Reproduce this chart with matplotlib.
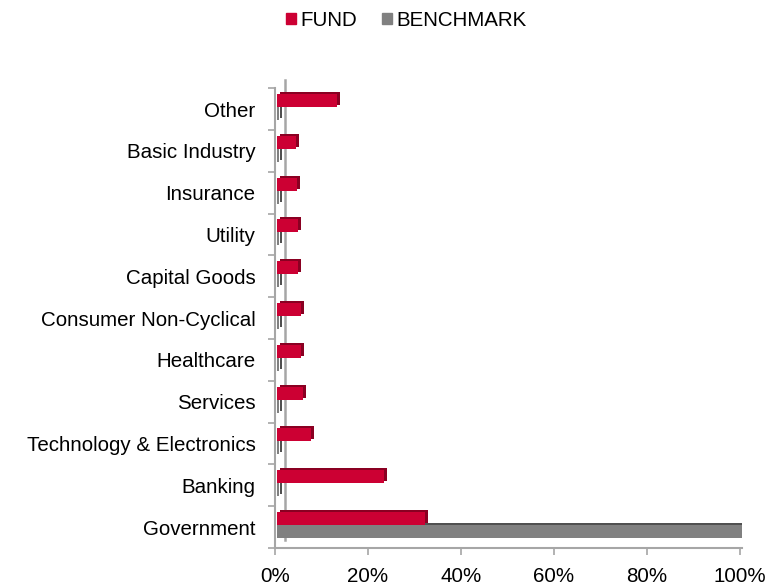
import matplotlib.pyplot as plt
import matplotlib.transforms as mtransforms
from matplotlib.patches import Patch

plt.rcParams['font.family'] = ['Liberation Sans', 'DejaVu Sans']

categories = ['Government', 'Banking', 'Technology & Electronics', 'Services',
              'Healthcare', 'Consumer Non-Cyclical', 'Capital Goods', 'Utility',
              'Insurance', 'Basic Industry', 'Other']
fund = [31.8, 23.0, 7.2, 5.6, 5.2, 5.0, 4.5, 4.5, 4.2, 4.0, 12.9]
benchmark = [100.0, 0.3, 0.3, 0.3, 0.3, 0.3, 0.3, 0.3, 0.3, 0.3, 0.3]
ticks = [0, 20, 40, 60, 80, 100]
tick_labels = ['0%', '20%', '40%', '60%', '80%', '100%']

red = '#cc0033'
red_dark = '#8a0022'
gray = '#808080'
gray_dark = '#505050'
frame = '#a6a6a6'
fs = 14.8

fig = plt.figure(figsize=(7.66, 5.88), dpi=100)
ax = fig.add_axes([0.359, 0.068, 0.61, 0.782])

h = 0.31
ypos = list(range(len(categories)))
yf = [y + h / 2 + 0.05 for y in ypos]
yb = [y - h / 2 + 0.05 for y in ypos]

# fake depth: darker copy shifted up/right, then the front face
depth = mtransforms.offset_copy(ax.transData, fig=fig, x=3, y=2, units='dots')
ax.barh(yb, benchmark, height=h, left=0.5, color=gray_dark, transform=depth, zorder=2)
ax.barh(yb, benchmark, height=h, left=0.5, color=gray, zorder=3)
ax.barh(yf, fund, height=h, left=0.5, color=red_dark, transform=depth, zorder=4)
ax.barh(yf, fund, height=h, left=0.5, color=red, zorder=5)

ax.set_xlim(0, 100.5)
ax.set_ylim(-0.5, len(categories) - 0.5)
ax.set_xticks(ticks)
ax.set_xticklabels(tick_labels)
ax.set_yticks(ypos)
ax.set_yticklabels(categories)
ax.set_yticks([y - 0.5 for y in range(len(categories) + 1)], minor=True)
ax.tick_params(axis='y', which='major', length=0, pad=14, labelsize=fs)
ax.tick_params(axis='y', which='minor', length=5, color=frame, width=1.2)
ax.tick_params(axis='x', length=5, color=frame, width=1.2, labelsize=fs, pad=9)

for side in ['top', 'right']:
    ax.spines[side].set_visible(False)
for side in ['left', 'bottom']:
    ax.spines[side].set_color(frame)
    ax.spines[side].set_linewidth(1.5)

# back wall of the 3d frame
wall = mtransforms.offset_copy(ax.transData, fig=fig, x=10, y=8, units='dots')
ax.plot([0, 0], [-0.5, len(categories) - 0.5], color=frame, lw=1.8,
        transform=wall, clip_on=False, zorder=1)

fig.legend(handles=[Patch(color=red, label='FUND'), Patch(color=gray, label='BENCHMARK')],
           loc='upper center', bbox_to_anchor=(0.53, 1.013), ncol=2, frameon=False,
           fontsize=fs, handlelength=0.5, handleheight=0.5, handletextpad=0.2,
           columnspacing=1.2)

fig.savefig('out.png', dpi=100)
